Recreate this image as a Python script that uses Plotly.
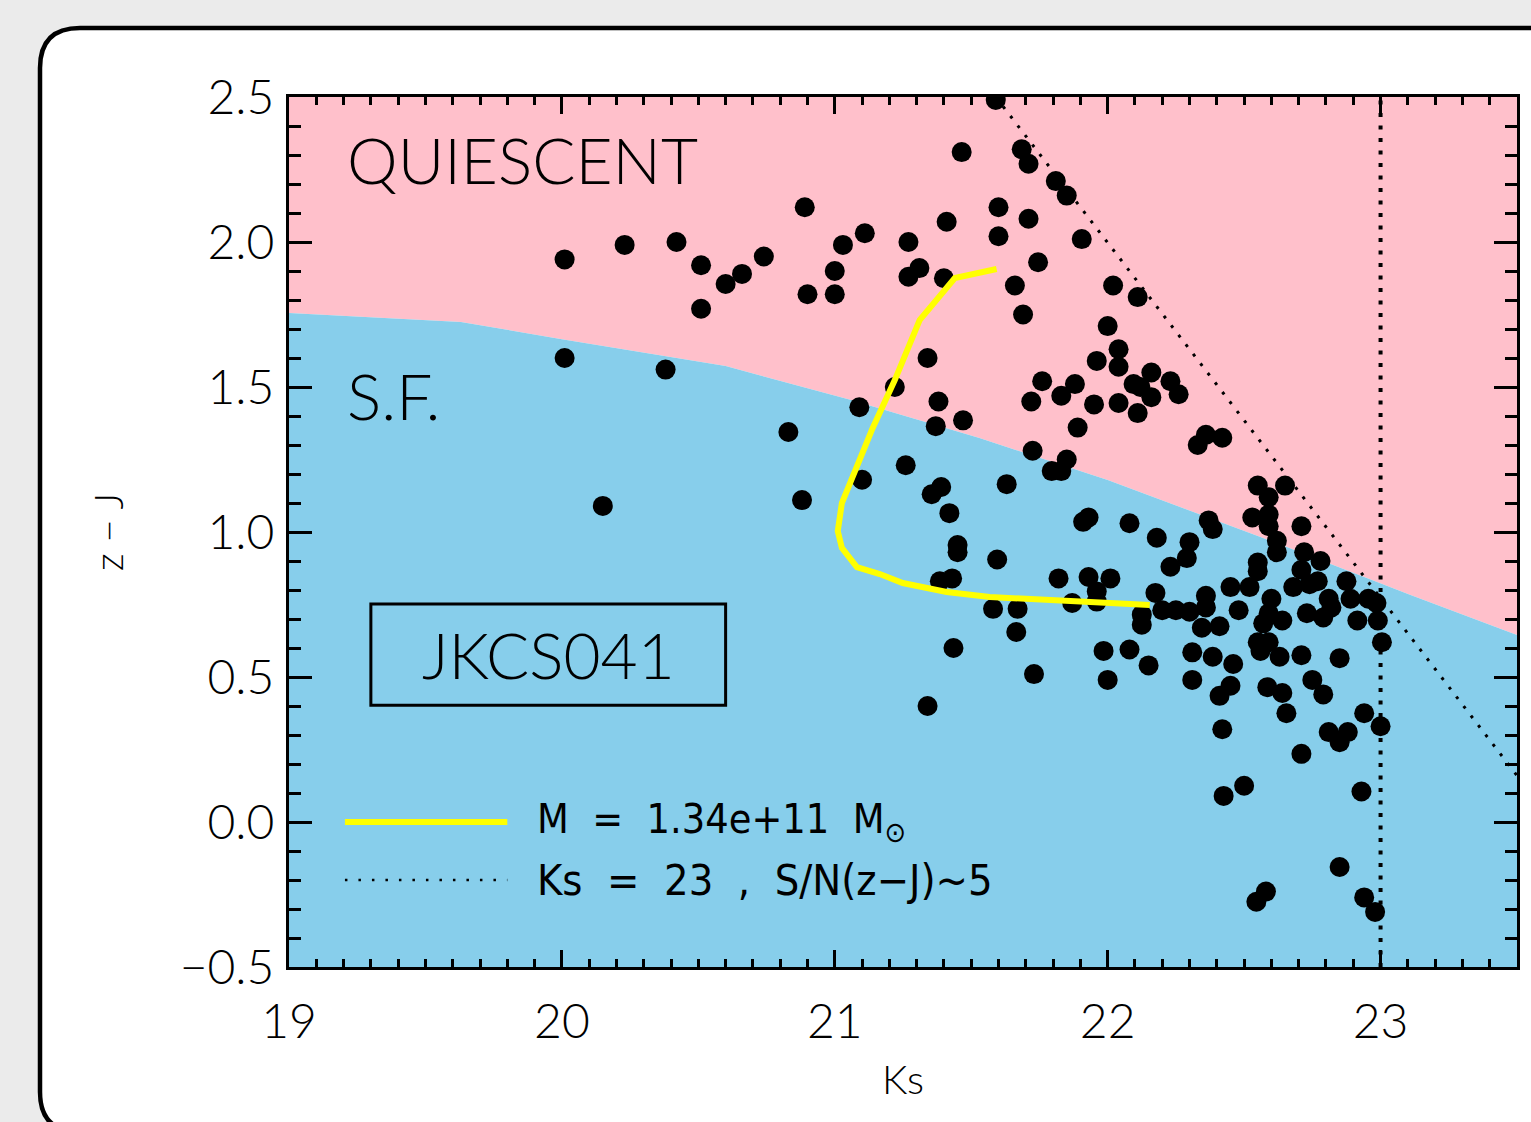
import plotly.graph_objects as go

# ---------------- data ----------------
ks = [
    20.01, 20.23, 20.42, 20.51, 20.51, 20.60, 20.66, 20.74, 20.89, 20.90,
    21.00, 21.00, 21.03, 21.11, 20.01, 20.38, 20.83, 20.15, 20.88,
    21.27, 21.31, 21.27, 21.40, 21.41, 21.465, 21.59, 21.60, 21.60, 21.34,
    21.22, 21.09, 21.38, 21.37, 21.47, 21.10, 21.26, 21.355, 21.39, 21.42,
    21.45, 21.45, 21.63, 21.595, 21.385, 21.43, 21.58, 21.67, 21.665, 21.435,
    21.73, 21.34,
    21.685, 21.71, 21.81, 21.85, 21.71, 21.905, 21.745, 21.66, 22.02, 22.11,
    21.69, 22.00, 22.04, 21.96, 22.04, 22.16, 21.76, 21.88, 21.83, 21.72,
    21.95, 22.04, 22.095, 22.12, 22.16, 22.11, 22.23, 22.26, 21.89, 21.725,
    21.85, 21.795, 21.83, 22.33, 22.36, 22.42,
    21.91, 21.93, 22.08, 22.18, 22.30, 22.29, 22.23, 22.37, 22.385, 22.55,
    22.65, 22.59, 22.53, 22.59, 22.59, 22.62, 22.62, 22.71, 22.72, 22.78,
    22.55, 22.55, 22.71, 22.68, 22.74, 22.77, 22.875, 22.89, 22.955, 22.985,
    22.915, 22.99, 23.005, 22.81, 22.82, 22.79, 22.73, 22.64, 22.60, 22.59,
    22.57, 22.52, 22.45, 22.48, 22.41, 22.345, 22.36, 22.36, 22.175, 22.20,
    22.25, 22.30, 22.125, 22.125, 21.82, 21.93, 22.01, 21.96, 21.96, 21.87,
    22.31, 22.385, 22.46, 22.55, 22.59, 22.56, 22.63, 22.71, 22.85, 21.985,
    22.08, 22.15, 22.00, 22.31, 22.42, 22.50, 22.425, 22.71, 22.81, 22.88,
    22.85, 22.94, 23.00, 22.93, 22.85, 22.58, 22.545, 22.94, 22.98, 22.45,
    22.41, 22.585, 22.64, 22.655, 22.75, 22.79,
]
zj = [
    1.94, 1.99, 2.00, 1.92, 1.77, 1.855, 1.89, 1.95, 2.12, 1.82,
    1.82, 1.90, 1.99, 2.03, 1.60, 1.56, 1.345, 1.09, 1.11,
    2.00, 1.91, 1.88, 1.875, 2.07, 2.31, 2.49, 2.12, 2.02, 1.60,
    1.50, 1.43, 1.45, 1.365, 1.385, 1.18, 1.23, 1.13, 1.155, 1.065,
    0.955, 0.93, 1.165, 0.905, 0.83, 0.84, 0.735, 0.735, 0.655, 0.60,
    0.51, 0.40,
    2.32, 2.27, 2.21, 2.16, 2.08, 2.01, 1.93, 1.85, 1.85, 1.81,
    1.75, 1.71, 1.63, 1.59, 1.57, 1.55, 1.52, 1.51, 1.47, 1.45,
    1.44, 1.445, 1.51, 1.50, 1.465, 1.41, 1.52, 1.475, 1.36, 1.28,
    1.25, 1.21, 1.21, 1.30, 1.335, 1.325,
    1.035, 1.05, 1.03, 0.98, 0.965, 0.91, 0.88, 1.04, 1.01, 1.16,
    1.16, 1.12, 1.05, 1.06, 1.02, 0.97, 0.93, 1.02, 0.93, 0.90,
    0.895, 0.865, 0.87, 0.81, 0.82, 0.83, 0.83, 0.77, 0.77, 0.755,
    0.695, 0.695, 0.62, 0.77, 0.74, 0.705, 0.72, 0.695, 0.77, 0.72,
    0.685, 0.81, 0.81, 0.73, 0.675, 0.67, 0.74, 0.78, 0.79, 0.73,
    0.73, 0.725, 0.715, 0.68, 0.84, 0.845, 0.84, 0.795, 0.76, 0.755,
    0.585, 0.57, 0.545, 0.62, 0.62, 0.59, 0.57, 0.575, 0.565, 0.59,
    0.595, 0.54, 0.49, 0.49, 0.32, 0.125, 0.09, 0.235, 0.31, 0.31,
    0.275, 0.375, 0.33, 0.105, -0.155, -0.24, -0.275, -0.26, -0.31, 0.47,
    0.435, 0.465, 0.445, 0.375, 0.49, 0.44,
]

# quiescent / star-forming dividing line
boundary_ks = [19.0, 19.63, 20.0, 20.6, 21.06, 21.53, 22.0, 22.56, 23.11, 23.5]
boundary_zj = [1.755, 1.724, 1.665, 1.572, 1.455, 1.324, 1.179, 0.983, 0.783, 0.645]

# model track, M = 1.34e+11 Msun
track_ks = [21.593, 21.44, 21.311, 21.22, 21.139, 21.066, 21.026, 21.011, 21.026,
            21.081, 21.165, 21.249, 21.41, 21.568, 21.777, 22.154]
track_zj = [1.907, 1.876, 1.731, 1.524, 1.359, 1.197, 1.10, 1.003, 0.945,
            0.879, 0.855, 0.824, 0.793, 0.776, 0.766, 0.748]

# S/N(z-J)~5 limit and Ks = 23 limit
limit_ks = [21.59, 23.5]
limit_zj = [2.5, 0.16]
ks_limit = 23.0

x_range = [19.0, 23.5]
y_range = [-0.5, 2.5]
x_ticks = [19, 20, 21, 22, 23]
y_ticks = [-0.5, 0.0, 0.5, 1.0, 1.5, 2.0, 2.5]

PINK = "#FFC0CB"
BLUE = "#87CEEB"
THIN = "Lato, 'Open Sans', sans-serif"
LEG = "'Liberation Sans Narrow', 'DejaVu Sans Condensed', 'DejaVu Sans', sans-serif"

fig = go.Figure()

# pink (quiescent) area above boundary
fig.add_trace(go.Scatter(
    x=boundary_ks + [x_range[1], x_range[0]],
    y=boundary_zj + [y_range[1], y_range[1]],
    fill="toself", fillcolor=PINK, mode="none", hoverinfo="skip", showlegend=False))
# blue (SF) area below boundary
fig.add_trace(go.Scatter(
    x=boundary_ks + [x_range[1], x_range[0]],
    y=boundary_zj + [y_range[0], y_range[0]],
    fill="toself", fillcolor=BLUE, mode="none", hoverinfo="skip", showlegend=False))

# dotted limits
fig.add_trace(go.Scatter(x=limit_ks, y=limit_zj, mode="lines",
                         line=dict(color="black", width=3, dash="3px,9px"),
                         showlegend=False, hoverinfo="skip"))
fig.add_trace(go.Scatter(x=[ks_limit, ks_limit], y=y_range, mode="lines",
                         line=dict(color="black", width=4, dash="4px,8.5px"),
                         showlegend=False, hoverinfo="skip"))

# galaxies
fig.add_trace(go.Scatter(x=ks, y=zj, mode="markers",
                         marker=dict(color="black", size=20, line=dict(width=0)),
                         showlegend=False))

# mass track
fig.add_trace(go.Scatter(x=track_ks, y=track_zj, mode="lines",
                         line=dict(color="#FFFF00", width=6),
                         showlegend=False, hoverinfo="skip"))

# ---- frame: white rounded panel on grey page ----
L, T, B, W, H = 289, 97, 155, 1531, 1122
pw, ph = W - L - 14, H - T - B


def px(xp):
    return (xp - L) / pw


def py(yp):
    return (H - B - yp) / ph


x0, x1 = px(40), px(1570)
yt, yb = py(28), py(1132)
rx, ry = 40 / pw, 40 / ph
path = (f"M {x0},{yb + ry} L {x0},{yt - ry} Q {x0},{yt} {x0 + rx},{yt} "
        f"L {x1},{yt} L {x1},{yb} L {x0 + rx},{yb} Q {x0},{yb} {x0},{yb + ry} Z")
fig.add_shape(type="path", path=path, xref="paper", yref="paper",
              fillcolor="white", line=dict(color="black", width=4.5), layer="below")

# JKCS041 label box
fig.add_shape(type="rect", xref="x", yref="y", x0=19.30, x1=20.60, y0=0.403, y1=0.752,
              line=dict(color="black", width=3), layer="above")

# legend keys
fig.add_shape(type="line", xref="x", yref="y", x0=19.205, x1=19.80, y0=0.0, y1=0.0,
              line=dict(color="#FFFF00", width=6), layer="above")
fig.add_shape(type="line", xref="x", yref="y", x0=19.205, x1=19.80, y0=-0.2, y1=-0.2,
              line=dict(color="black", width=2.5, dash="2.5px,11px"), layer="above")

nb = "\u00a0"
annots = [
    dict(x=19.205, y=2.283, text="QUIESCENT", xanchor="left", yanchor="middle",
         font=dict(family=THIN, size=64, color="black", weight=300)),
    dict(x=19.205, y=1.472, text="S.F.", xanchor="left", yanchor="middle",
         font=dict(family=THIN, size=64, color="black", weight=300)),
    dict(x=19.95, y=0.576, text="JKCS041", xanchor="center", yanchor="middle",
         font=dict(family=THIN, size=64, color="black", weight=300)),
    dict(x=19.90, y=0.0, text=f"M{nb}{nb}={nb}{nb}1.34e+11{nb}{nb}M<sub>⊙</sub>",
         xanchor="left", yanchor="middle", font=dict(family=LEG, size=41, color="black")),
    dict(x=19.90, y=-0.2, text=f"Ks{nb}{nb}={nb}{nb}23{nb}{nb},{nb}{nb}S/N(z−J)~5",
         xanchor="left", yanchor="middle", font=dict(family=LEG, size=43, color="black")),
]
for a in annots:
    fig.add_annotation(xref="x", yref="y", showarrow=False, **a)

axis_common = dict(
    showgrid=False, zeroline=False, showline=True, linecolor="black", linewidth=3,
    mirror="allticks", ticks="inside", tickcolor="black", tickwidth=3,
    tickfont=dict(family=THIN, size=48, color="black", weight=300),
)
fig.update_xaxes(range=x_range, tickmode="array", tickvals=x_ticks, ticklen=17,
                 minor=dict(dtick=0.1, ticklen=8, tickwidth=2.5, ticks="inside",
                            tickcolor="black", showgrid=False),
                 ticklabelstandoff=10,
                 title=dict(text="Ks", font=dict(family=THIN, size=40, color="black", weight=300),
                            standoff=20),
                 **axis_common)
fig.update_yaxes(range=y_range, tickmode="array", tickvals=y_ticks, tickformat=".1f",
                 ticklen=23, minor=dict(dtick=0.1, ticklen=12, tickwidth=2.5, ticks="inside",
                                        tickcolor="black", showgrid=False),
                 ticklabelstandoff=2,
                 title=dict(text="z − J", font=dict(family=THIN, size=40, color="black", weight=300),
                            standoff=44),
                 **axis_common)

fig.update_layout(
    width=W, height=H,
    margin=dict(l=L, r=14, t=T, b=B, pad=0),
    paper_bgcolor="#ebebeb", plot_bgcolor="white",
    showlegend=False,
)

fig.write_html(
    "out.html",
    config={"displayModeBar": False},
    post_script="document.body.style.margin='0px';document.body.style.background='#ebebeb';",
)
